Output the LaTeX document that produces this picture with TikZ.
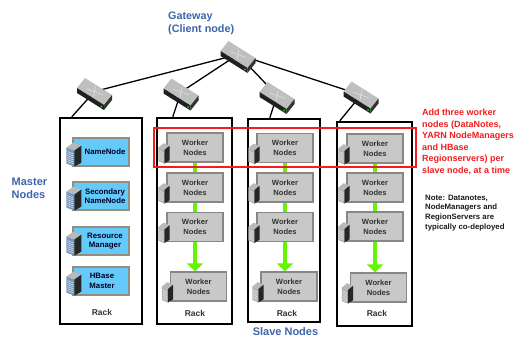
\documentclass[tikz,border=0pt]{standalone}
\usepackage{fontspec}
\setmainfont{Liberation Sans}
\usetikzlibrary{arrows.meta}
\usetikzlibrary{backgrounds}

\definecolor{labelblue}{RGB}{62,100,170}
\definecolor{masterfill}{RGB}{100,202,250}
\definecolor{masterline}{RGB}{150,140,130}
\definecolor{masterstripe}{RGB}{120,150,190}
\definecolor{workerfill}{RGB}{200,200,200}
\definecolor{workerline}{RGB}{135,135,135}
\definecolor{flowgreen}{RGB}{100,245,0}
\definecolor{notered}{RGB}{240,30,30}

\tikzset{
    pics/switch/.style={code={
        \fill[gray!50] (-17.5,-3.5) -- (-9.5,-13.5) -- (17.5,3.5) -- (9.5,13.5) -- cycle;
        \fill[gray!25!black] (-17.5,-3.5) -- (9.5,13.5) -- (9.5,18.5) -- (-17.5,1.5) -- cycle;
        \fill[gray!40!black] (9.5,13.5) -- (17.5,3.5) -- (17.5,8.5) -- (9.5,18.5) -- cycle;
        \draw[gray!20,line width=0.5pt] (-8,-3) -- (8,3) (-1,5) -- (1,-5);
        \fill[green!80!black] (7,15) circle[radius=1.1pt];
    }},
    pics/server/.style={code={
        \fill[gray!55] (0,-19) -- (7,-24) -- (15,-21) -- (8,-16) -- cycle;
        \fill[#1] (0,-19) -- (8,-16) -- (8,0) -- (0,-3) -- cycle;
        \fill[gray!30!black] (8,-16) -- (15,-21) -- (15,-4) -- (8,0) -- cycle;
        \foreach \k in {0,...,5}
            \draw[white!80!gray,line width=0.5pt] (1,-15+2*\k) -- (7,-12.75+2*\k);
    }}
}

\begin{document}
\begin{tikzpicture}[x=1pt,y=-1pt,
        masterbox/.style={draw=masterline,fill=masterfill,line width=1.2pt,minimum width=56pt,minimum height=28pt},
        mastertext/.style={align=center,inner sep=0pt,text=black!85!blue,font=\fontsize{7.8}{9.5}\selectfont\bfseries},
        racklabel/.style={font=\fontsize{8.5}{10}\selectfont\bfseries,text=black!80}]

    \useasboundingbox (0,0) rectangle (517,338);

    % switches
    \coordinate (sw0) at (238,54.5);
    \coordinate (sw1) at (94.5,91.5);
    \coordinate (sw2) at (181,92);
    \coordinate (sw3) at (277,95.5);
    \coordinate (sw4) at (361,95);
    \foreach \s in {sw0,sw1,sw2,sw3,sw4}
        \pic at (\s) {switch};

    % racks
    \begin{scope}[every node/.style={draw,line width=2.4pt,inner sep=0pt}]
        \node[minimum width=82pt,minimum height=206pt] (rack1) at (101,221) {};
        \node[minimum width=75pt,minimum height=206pt] (rack2) at (194.5,221) {};
        \node[minimum width=72pt,minimum height=203pt] (rack3) at (284,220.5) {};
        \node[minimum width=75pt,minimum height=204pt] (rack4) at (374.5,224) {};
    \end{scope}

    \node[racklabel] (lab1) at (102,312) {Rack};
    \node[racklabel] (lab2) at (195,313) {Rack};
    \node[racklabel] (lab3) at (287,313) {Rack};
    \node[racklabel] (lab4) at (377,313) {Rack};

    % master nodes
    \node[masterbox] (nn) at (101,152) {};
    \node[masterbox] (snn) at (101,196) {};
    \node[masterbox] (rm) at (101,241) {};
    \node[masterbox] (hm) at (101,281) {};
    \node[mastertext] (nnt) at ([xshift=4pt]nn.center) {NameNode};
    \node[mastertext] (snnt) at ([xshift=4pt]snn.center) {Secondary\\NameNode};
    \node[mastertext] (rmt) at ([xshift=4pt]rm.center) {Resource\\Manager};
    \node[mastertext] (hmt) at ([xshift=1pt]hm.center) {HBase\\Master};
    \foreach \m in {nn,snn,rm,hm}
        \pic at ([xshift=-6pt]\m.south west) {server=masterstripe};

    % worker nodes
    \begin{scope}[every node/.style={draw=workerline,fill=workerfill,line width=1.2pt,minimum width=56pt,minimum height=29pt,
            align=center,text=black!80,font=\fontsize{7.6}{10}\selectfont\bfseries}]
        \node (w21) at (195,147.5) {Worker\\Nodes};
        \node (w22) at (195,187.5) {Worker\\Nodes};
        \node (w23) at (195,227) {Worker\\Nodes};
        \node (w24) at (198.5,286.5) {Worker\\Nodes};
        \node (w31) at (285,148) {Worker\\Nodes};
        \node (w32) at (285,187.5) {Worker\\Nodes};
        \node (w33) at (285,227) {Worker\\Nodes};
        \node (w34) at (289,286.5) {Worker\\Nodes};
        \node (w41) at (375,148.5) {Worker\\Nodes};
        \node (w42) at (375,187.5) {Worker\\Nodes};
        \node (w43) at (375,226.5) {Worker\\Nodes};
        \node (w44) at (378.5,287.5) {Worker\\Nodes};
    \end{scope}
    \foreach \w in {w21,w22,w23,w24,w31,w32,w33,w34,w41,w42,w43,w44}
        \pic[xscale=0.75,yscale=0.85] at ([xshift=-8pt,yshift=-1pt]\w.south west) {server=gray!60};

    % red frame round the first row
    \node[draw=notered,line width=1.5pt,minimum width=262pt,minimum height=39pt,inner sep=0pt] (addrow) at (285,147.5) {};

    \begin{scope}[on background layer]
        % growth arrows
        \begin{scope}[every path/.style={draw=flowgreen,line width=4pt,-{Triangle[width=16pt,length=8pt]}}]
            \path (w21.south) -- (w21.south |- w24.north);
            \path (w31.south) -- (w31.south |- w34.north);
            \path (w41.south) -- (w41.south |- w44.north);
        \end{scope}
        % network links
        \begin{scope}[every edge/.style={draw,line width=1.3pt}]
            \path (sw0) edge (sw1) edge (sw2) edge (sw3) edge (sw4);
            \path (sw1) edge ([xshift=13pt]rack1.north west);
            \path (sw2) edge ([xshift=17pt]rack2.north west);
            \path (sw3) edge ([xshift=23pt]rack3.north west);
            \path (sw4) edge ([xshift=4pt]rack4.north west);
        \end{scope}
    \end{scope}

    % texts
    \node[anchor=north west,align=left,inner sep=0pt,text=labelblue,font=\fontsize{10.8}{13}\selectfont\bfseries]
        (gateway) at (168,11.5) {Gateway\\(Client node)};
    \node[anchor=north west,align=left,inner sep=0pt,text=labelblue,font=\fontsize{11}{13}\selectfont\bfseries]
        (masters) at (11.5,178) {Master\\Nodes};
    \node[anchor=base,inner sep=0pt,text=labelblue,font=\fontsize{11}{13}\selectfont\bfseries]
        (slaves) at (285.5,335.2) {Slave Nodes};
    \node[anchor=north west,align=left,inner sep=0pt,text=notered,font=\fontsize{9}{11.5}\selectfont\bfseries]
        (addnote) at (422,109) {Add three worker\\nodes (DataNotes,\\YARN NodeManagers\\and HBase\\Regionservers) per\\slave node, at a time};
    \node[anchor=north west,align=left,inner sep=0pt,text=black!90,font=\fontsize{7.8}{9.8}\selectfont\bfseries]
        (codeploy) at (425,194.5) {Note: Datanotes,\\NodeManagers and\\RegionServers are\\typically co-deployed};

\end{tikzpicture}
\end{document}
